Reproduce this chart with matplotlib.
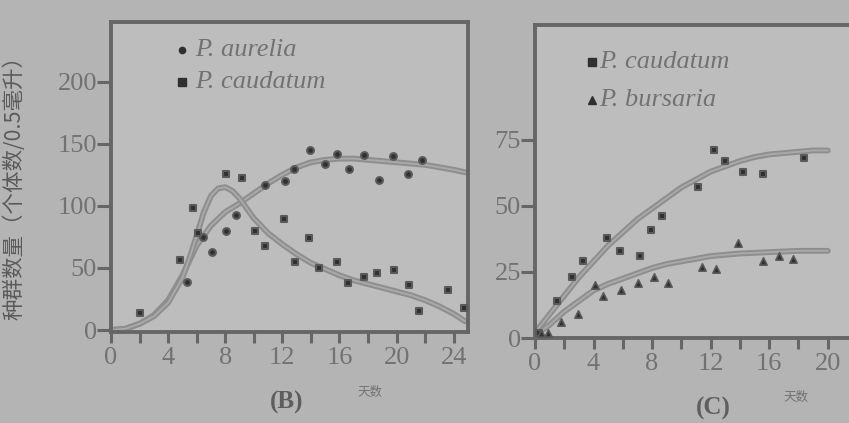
import matplotlib
matplotlib.use("Agg")
import matplotlib.pyplot as plt

plt.rcParams['font.family'] = ['Liberation Serif', 'Noto Sans CJK SC', 'DejaVu Sans']

# ---------------- Panel B data ----------------
b_aurelia_x = [5.3, 6.45, 7.1, 8.05, 8.75, 10.8, 12.2, 12.8, 13.95, 15.0, 15.8, 16.7,
               17.75, 18.8, 19.75, 20.8, 21.8]
b_aurelia_y = [39, 75, 63, 80, 93, 117, 120, 130, 145, 134, 142, 130, 141, 121, 140, 126, 137]
b_caud_x = [2.06, 4.8, 5.75, 6.1, 8.05, 9.2, 10.1, 10.8, 12.1, 12.9, 13.9, 14.6, 15.8,
            16.6, 17.75, 18.6, 19.85, 20.9, 21.6, 23.6, 24.7]
b_caud_y = [14, 56, 98, 78, 126, 122, 80, 68, 89, 55, 74, 50, 55, 38, 43, 46, 48, 36, 15, 32, 18]

b_aurelia_fit_x = [0, 1, 2, 3, 4, 5, 6, 7, 8, 9, 10, 11, 12, 13, 14, 15, 16, 17, 18, 19,
                   20, 21, 22, 23, 24, 24.8]
b_aurelia_fit_y = [0, 1, 5, 12, 24, 44, 68, 84, 95, 102, 110, 118, 125, 131, 135, 137,
                   138, 138, 137, 136, 135, 134, 133, 131, 129, 127]
b_caud_fit_x = [0, 1, 2, 3, 4, 5, 5.5, 6, 6.5, 7, 7.5, 8, 8.5, 9, 9.5, 10, 11, 12, 13, 14,
                15, 16, 17, 18, 19, 20, 21, 22, 23, 24, 24.8]
b_caud_fit_y = [0, 1, 5, 11, 22, 42, 58, 76, 95, 108, 114, 115, 112, 106, 98, 90, 78, 69,
                61, 54, 49, 44, 40, 37, 34, 31, 28, 24, 19, 13, 7]

# ---------------- Panel C data ----------------
c_caud_x = [0.3, 1.48, 2.5, 3.3, 4.9, 5.8, 7.2, 7.95, 8.65, 11.15, 12.2, 13.0, 14.2, 15.6, 18.4]
c_caud_y = [2, 14, 23, 29, 38, 33, 31, 41, 46, 57, 71, 67, 63, 62, 68]
c_burs_x = [0.4, 0.9, 1.8, 2.95, 4.1, 4.65, 5.9, 7.05, 8.1, 9.1, 11.4, 12.4, 13.9, 15.6,
            16.7, 17.6]
c_burs_y = [2, 2, 6, 9, 20, 16, 18, 21, 23, 21, 27, 26, 36, 29, 31, 30]

c_caud_fit_x = [0, 1, 2, 3, 4, 5, 6, 7, 8, 9, 10, 11, 12, 13, 14, 15, 16, 17, 18, 19, 20]
c_caud_fit_y = [2, 9, 16, 23, 29, 35, 40, 45, 49, 53, 57, 60, 63, 65, 67, 68.5, 69.5, 70,
                70.5, 71, 71]
c_burs_fit_x = [0, 1, 2, 3, 4, 5, 6, 7, 8, 9, 10, 11, 12, 13, 14, 16, 18, 20]
c_burs_fit_y = [1, 5, 10, 14, 18, 20.5, 22.5, 24.5, 26.5, 28, 29, 30, 31, 31.5, 32, 32.5,
                33, 33]

b_legend = ["P. aurelia", "P. caudatum"]
c_legend = ["P. caudatum", "P. bursaria"]
b_yticks = [0, 50, 100, 150, 200]
c_yticks = [0, 25, 50, 75]
b_xlabels = [0, 4, 8, 12, 16, 20, 24]
c_xlabels = [0, 4, 8, 12, 16, 20]

FIG_BG = '#b4b4b4'
AX_BG = '#bdbdbd'
SPINE = '#666666'
TXT = '#727272'
LINE = '#8e8e8e'
DOT = '#303030'

fig = plt.figure(figsize=(8.49, 4.23), dpi=100, facecolor=FIG_BG)

axB = fig.add_axes([111/849, 91/423, 357/849, 310/423], facecolor=AX_BG)
axC = fig.add_axes([535/849, 85/423, 322/849, 313/423], facecolor=AX_BG)


def style(ax, xmax, ylim, yticks, xlabels):
    ax.set_xlim(0, xmax)
    ax.set_ylim(*ylim)
    ax.set_yticks(yticks)
    ax.set_xticks(xlabels)
    ax.set_xticks(range(0, int(xmax) + 1, 2), minor=True)
    for s in ax.spines.values():
        s.set_color(SPINE)
        s.set_linewidth(2.8)
    ax.tick_params(axis='both', which='both', direction='out', color=SPINE,
                   width=2.2, labelcolor=TXT, labelsize=19)
    ax.tick_params(axis='y', length=10, pad=0)
    ax.tick_params(axis='x', which='both', length=8, pad=3)


def curve(ax, x, y):
    ax.plot(x, y, color=LINE, lw=4.2, solid_capstyle='round', zorder=2)
    ax.plot(x, y, color='#a9a9a9', lw=1.4, solid_capstyle='round', zorder=2)


# Panel B
curve(axB, b_aurelia_fit_x, b_aurelia_fit_y)
curve(axB, b_caud_fit_x, b_caud_fit_y)
axB.scatter(b_aurelia_x, b_aurelia_y, s=24, marker='o', color=DOT, zorder=3,
            edgecolors='#5a5a5a', linewidths=1.5)
axB.scatter(b_caud_x, b_caud_y, s=24, marker='s', color=DOT, zorder=3,
            edgecolors='#5a5a5a', linewidths=1.5)
style(axB, 25, (-1.6, 248), b_yticks, b_xlabels)

axB.plot([0.20], [0.91], transform=axB.transAxes, marker='o', ms=4.5, color=DOT)
axB.plot([0.20], [0.806], transform=axB.transAxes, marker='s', ms=5.5, color=DOT)
axB.text(0.235, 0.91, b_legend[0], transform=axB.transAxes, style='italic',
         fontsize=19, color=TXT, va='center')
axB.text(0.235, 0.806, b_legend[1], transform=axB.transAxes, style='italic',
         fontsize=19, color=TXT, va='center')

# Panel C
curve(axC, c_caud_fit_x, c_caud_fit_y)
curve(axC, c_burs_fit_x, c_burs_fit_y)
axC.scatter(c_caud_x, c_caud_y, s=24, marker='s', color=DOT, zorder=3,
            edgecolors='#5a5a5a', linewidths=1.5)
axC.scatter(c_burs_x, c_burs_y, s=28, marker='^', color=DOT, zorder=3,
            edgecolors='#5a5a5a', linewidths=1.2)
style(axC, 22, (0, 118.5), c_yticks, c_xlabels)

axC.plot([0.177], [0.882], transform=axC.transAxes, marker='s', ms=5.5, color=DOT)
axC.plot([0.177], [0.76], transform=axC.transAxes, marker='^', ms=6, color=DOT)
axC.text(0.20, 0.882, c_legend[0], transform=axC.transAxes, style='italic',
         fontsize=19, color=TXT, va='center')
axC.text(0.20, 0.76, c_legend[1], transform=axC.transAxes, style='italic',
         fontsize=19, color=TXT, va='center')

# panel labels and axis titles
fig.text(287/849, 1 - 402/423, "(B)", ha='center', va='center', fontsize=18,
         fontweight='bold', color='#5e5e5e')
fig.text(370/849, 1 - 392/423, "天数", ha='center', va='center', fontsize=9,
         color=TXT, family=['Noto Sans CJK SC', 'DejaVu Sans'])
fig.text(713/849, 1 - 408/423, "(C)", ha='center', va='center', fontsize=18,
         fontweight='bold', color='#5e5e5e')
fig.text(796/849, 1 - 397/423, "天数", ha='center', va='center', fontsize=9,
         color=TXT, family=['Noto Sans CJK SC', 'DejaVu Sans'])
fig.text(14/849, 1 - 182/423, "种群数量（个体数/0.5毫升）", rotation=90, ha='center',
         va='center', fontsize=15.5, color='#5a5a5a',
         family=['Noto Sans CJK SC', 'DejaVu Sans'])

fig.savefig("out.png", dpi=100, facecolor=FIG_BG)
